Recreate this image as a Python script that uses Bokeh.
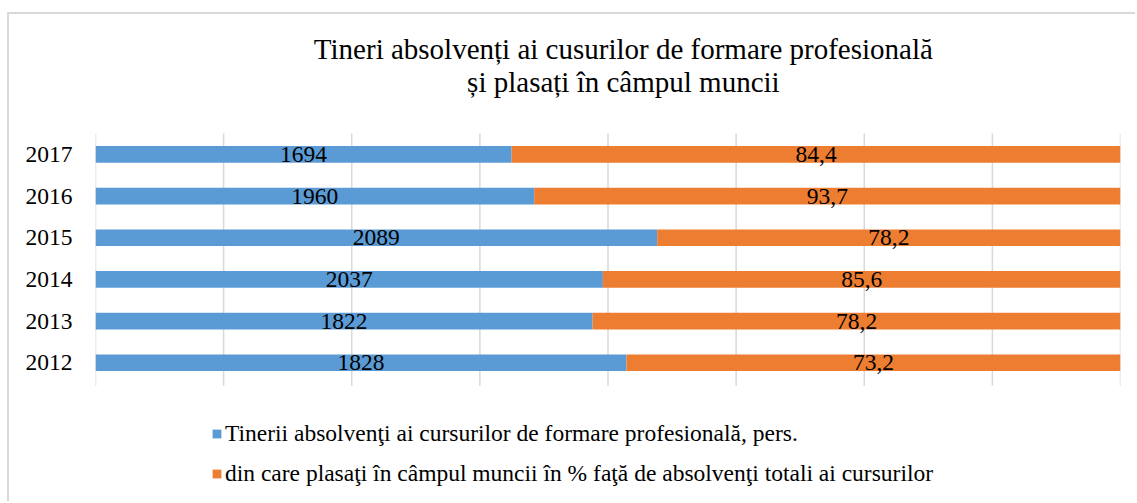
from bokeh.plotting import figure
from bokeh.models import (ColumnDataSource, Legend, LegendItem, Label,
                          Range1d, FixedTicker)
from bokeh.embed import file_html
from bokeh.resources import INLINE
from bokeh.core.properties import value

# ---- data ----
years = ["2012", "2013", "2014", "2015", "2016", "2017"]
graduates = [1828, 1822, 2037, 2089, 1960, 1694]          # label values, pers.
placed_pct = [73.2, 78.2, 85.6, 78.2, 93.7, 84.4]          # label values, %
# bar segment lengths as drawn in the source (share of the full 100% bar)
graduates_share = [51.8, 48.5, 49.5, 54.8, 42.8, 40.6]
placed_share = [48.2, 51.5, 50.5, 45.2, 57.2, 59.4]
grid_ticks = [0, 12.5, 25, 37.5, 50, 62.5, 75, 87.5, 100]

title_line1 = "Tineri absolvenți ai cusurilor de formare profesională"
title_line2 = "și plasați în câmpul muncii"
series_names = ["Tinerii absolvenţi ai cursurilor de formare profesională, pers.",
                "din care plasaţi în câmpul muncii în % faţă de absolvenţi totali ai cursurilor"]

BLUE = "#5B9BD5"
ORANGE = "#ED7D31"
GRID = "#d9d9d9"
FONT = "Liberation Serif"

pos = list(range(len(years)))   # category slots, 2012 at the bottom

src = ColumnDataSource(dict(
    pos=pos,
    grad=graduates_share,
    placed=placed_share,
    grad_mid=[g / 2 for g in graduates_share],
    placed_mid=[g + q / 2 for g, q in zip(graduates_share, placed_share)],
    grad_lbl=[str(v) for v in graduates],
    placed_lbl=[f"{v:.1f}".replace(".", ",") for v in placed_pct],
))

# one category slot = 41.67 px; the plot frame also holds title and legend
p = figure(width=1128, height=489,
           x_range=Range1d(0, 100), y_range=Range1d(-3.379, 8.357),
           output_backend="svg", toolbar_location=None,
           min_border_left=86, min_border_right=17,
           min_border_top=0, min_border_bottom=0)
p.title = None
p.margin = (12, 0, 0, 7)
p.styles = {"border-top": f"2px solid {GRID}", "border-left": f"2px solid {GRID}"}

# vertical gridlines over the category band
p.segment(x0=grid_ticks, y0=[-0.55] * len(grid_ticks),
          x1=grid_ticks, y1=[0.5 + pos[-1]] * len(grid_ticks),
          line_color=GRID, line_width=1.5)

renderers = p.hbar_stack(["grad", "placed"], y="pos", height=0.4, source=src,
                         color=[BLUE, ORANGE], line_color=None)

p.text(x="grad_mid", y="pos", text="grad_lbl", source=src,
       text_font=value(FONT), text_font_size="23.5px", text_color="black",
       text_align="center", text_baseline="middle")
p.text(x="placed_mid", y="pos", text="placed_lbl", source=src,
       text_font=value(FONT), text_font_size="23.5px", text_color="black",
       text_align="center", text_baseline="middle")

# axes
p.xaxis.visible = False
p.xgrid.visible = False
p.ygrid.visible = False
p.yaxis.ticker = FixedTicker(ticks=pos)
p.yaxis.major_label_overrides = {i: y for i, y in zip(pos, years)}
p.yaxis.axis_line_color = None
p.yaxis.major_tick_line_color = None
p.yaxis.minor_tick_line_color = None
p.yaxis.major_tick_in = 0
p.yaxis.major_tick_out = 0
p.yaxis.major_label_text_font = FONT
p.yaxis.major_label_text_font_size = "23.5px"
p.yaxis.major_label_text_color = "black"
p.yaxis.major_label_standoff = 23
p.outline_line_color = None

# two-line chart title
for txt, yy in [(title_line1, 7.52), (title_line2, 6.73)]:
    p.add_layout(Label(x=51.5, y=yy, text=txt, text_align="center",
                       text_baseline="alphabetic", text_font=FONT,
                       text_font_size="29px", text_color="black"))

legend = Legend(items=[LegendItem(label=series_names[0], renderers=[renderers[0]]),
                       LegendItem(label=series_names[1], renderers=[renderers[1]])],
                location=(116, 16), orientation="vertical",
                glyph_width=11, glyph_height=11, label_standoff=3,
                label_height=27,
                label_text_font=FONT, label_text_font_size="23.5px",
                label_text_color="black",
                padding=0, margin=0, spacing=13,
                border_line_color=None, background_fill_alpha=0)
p.add_layout(legend)

p.background_fill_color = "white"
p.border_fill_color = "white"

open("out.html", "w").write(file_html(p, INLINE))
